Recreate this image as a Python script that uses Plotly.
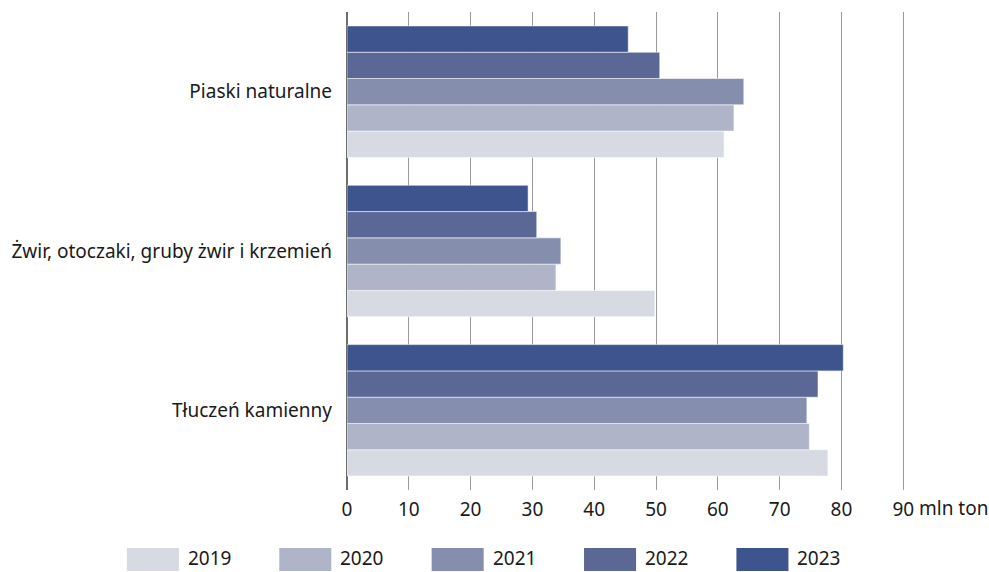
import plotly.graph_objects as go

# Categories listed bottom-to-top as plotted on the y axis
categories = ["Tłuczeń kamienny", "Żwir, otoczaki, gruby żwir i krzemień", "Piaski naturalne"]
years = ["2019", "2020", "2021", "2022", "2023"]

# Production in mln ton, per year, in the category order above
values = {
    "2019": [77.8, 49.8, 61.0],
    "2020": [74.8, 33.8, 62.6],
    "2021": [74.4, 34.6, 64.2],
    "2022": [76.2, 30.7, 50.6],
    "2023": [80.3, 29.3, 45.5],
}
colors = ["#d7dae3", "#afb4c8", "#858eac", "#5b6896", "#3e548e"]

x_ticks = [0, 10, 20, 30, 40, 50, 60, 70, 80, 90]
x_unit = "mln ton"
X_MAX = 90.6

FONT = "Noto Sans"
FS = 19
W, H = 989, 572
ML, MT, MB = 347, 12, 82
PW = 556 * X_MAX / 90
MR = W - ML - PW
PH = H - MT - MB


def px_x(px):
    return (px - ML) / PW


def px_y(py):
    return (H - MB - py) / PH


fig = go.Figure()
for yr, col in zip(years, colors):
    fig.add_trace(go.Bar(
        y=categories, x=values[yr], name=yr, orientation="h",
        marker=dict(color=col, line=dict(color="rgba(255,255,255,0.55)", width=1)),
        showlegend=False,
    ))

# Legend drawn as wide swatches under the axis
for i, (yr, col) in enumerate(zip(years, colors)):
    x0 = 127 + i * 152.3
    fig.add_shape(type="rect", xref="paper", yref="paper",
                  x0=px_x(x0), x1=px_x(x0 + 52), y0=px_y(571), y1=px_y(548),
                  fillcolor=col, line=dict(width=0), layer="above")
    fig.add_annotation(xref="paper", yref="paper", x=px_x(x0 + 59), y=px_y(558),
                       text=yr, showarrow=False, xanchor="left", yanchor="middle",
                       font=dict(family=FONT, size=FS, color="#1a1a1a"))

# Unit next to the last tick label
fig.add_annotation(xref="x", yref="paper", x=x_ticks[-1], y=px_y(508),
                   text=x_unit, showarrow=False, xanchor="left", yanchor="middle",
                   xshift=14, font=dict(family=FONT, size=FS, color="#1a1a1a"))

fig.update_layout(
    width=W, height=H,
    margin=dict(l=ML, r=MR, t=MT, b=MB, pad=0),
    barmode="group", bargap=0.175, bargroupgap=0,
    plot_bgcolor="white", paper_bgcolor="white",
    font=dict(family=FONT, size=FS, color="#1a1a1a"),
)
fig.update_xaxes(
    range=[0, X_MAX], tickvals=x_ticks, ticktext=[str(v) for v in x_ticks],
    showgrid=True, gridcolor="#9a9a9a", gridwidth=1,
    zeroline=True, zerolinecolor="#6e6e6e", zerolinewidth=2,
    showline=False, ticks="", ticklabelstandoff=6,
)
fig.update_yaxes(
    range=[-0.5, 2.5], showgrid=False, zeroline=False, showline=False,
    ticks="", ticklabelstandoff=14,
)

fig.write_html("out.html")
